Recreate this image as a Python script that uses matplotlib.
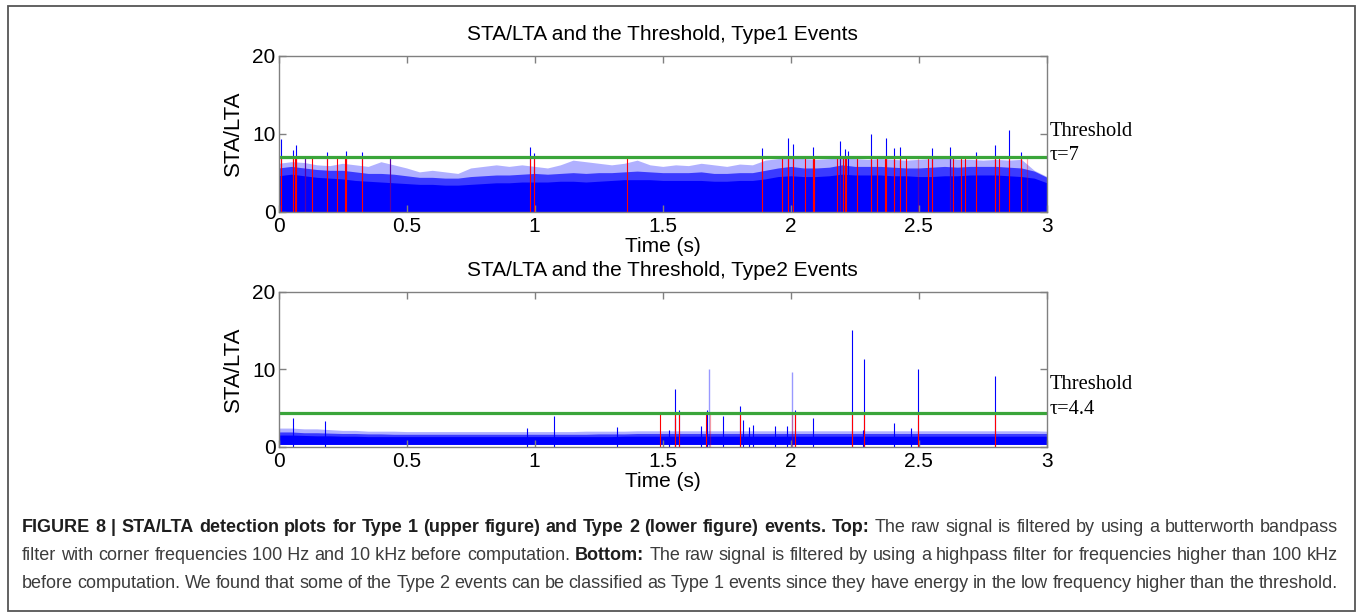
import numpy as np
import matplotlib
matplotlib.use('Agg')
import matplotlib.pyplot as plt
from matplotlib.patches import Rectangle

# ---- data ----
env_t = [0.00, 0.05, 0.10, 0.15, 0.20, 0.25, 0.30, 0.35, 0.40, 0.45,
         0.50, 0.55, 0.60, 0.65, 0.70, 0.75, 0.80, 0.85, 0.90, 0.95,
         1.00, 1.05, 1.10, 1.15, 1.20, 1.25, 1.30, 1.35, 1.40, 1.45,
         1.50, 1.55, 1.60, 1.65, 1.70, 1.75, 1.80, 1.85, 1.90, 1.95,
         2.00, 2.05, 2.10, 2.15, 2.20, 2.25, 2.30, 2.35, 2.40, 2.45,
         2.50, 2.55, 2.60, 2.65, 2.70, 2.75, 2.80, 2.85, 2.90, 2.95,
         3.00]

# Type 1: solid core, dense spikes and light fringe of the STA/LTA trace
top_core = [4.6, 4.8, 4.6, 4.4, 4.3, 4.2, 4.0, 3.9, 3.8, 3.7,
            3.6, 3.5, 3.5, 3.4, 3.4, 3.5, 3.6, 3.7, 3.7, 3.8,
            3.8, 3.8, 3.9, 3.9, 3.8, 3.9, 4.0, 4.1, 4.1, 4.1,
            4.0, 4.0, 4.0, 4.0, 3.9, 3.9, 4.0, 4.0, 4.2, 4.5,
            4.6, 4.5, 4.5, 4.6, 4.8, 4.7, 4.7, 4.7, 4.6, 4.6,
            4.5, 4.5, 4.6, 4.6, 4.7, 4.7, 4.7, 4.6, 4.5, 4.3,
            3.7]
top_mid = [5.6, 5.8, 5.6, 5.4, 5.3, 5.3, 5.1, 4.9, 4.9, 4.8,
           4.6, 4.4, 4.4, 4.3, 4.3, 4.5, 4.6, 4.7, 4.7, 4.8,
           4.9, 4.8, 4.9, 5.0, 4.9, 5.0, 5.0, 5.1, 5.2, 5.1,
           5.0, 5.0, 5.0, 5.1, 4.9, 4.9, 5.0, 5.0, 5.3, 5.6,
           5.8, 5.6, 5.6, 5.7, 6.0, 5.8, 5.8, 5.8, 5.7, 5.6,
           5.6, 5.7, 5.8, 5.7, 5.8, 5.8, 5.8, 5.7, 5.6, 5.2,
           4.4]
top_peak = [6.2, 6.4, 6.3, 6.0, 5.9, 6.2, 6.0, 5.8, 6.4, 6.0,
            5.6, 5.1, 5.3, 5.1, 4.9, 5.6, 5.8, 6.0, 5.8, 6.0,
            5.8, 5.6, 6.0, 6.6, 6.4, 6.2, 6.0, 6.2, 6.6, 6.0,
            5.8, 6.0, 5.9, 6.2, 6.0, 5.8, 6.1, 6.0, 6.6, 6.8,
            6.9, 6.8, 6.7, 6.8, 6.9, 6.8, 6.7, 6.8, 6.7, 6.6,
            6.7, 6.8, 6.9, 6.7, 6.7, 6.6, 6.7, 6.6, 6.7, 5.3,
            4.5]
top_spike_t = [0.008, 0.057, 0.068, 0.104, 0.189, 0.262, 0.325, 0.437, 0.983, 0.997,
               1.888, 1.990, 2.008, 2.087, 2.191, 2.212, 2.222, 2.311, 2.371, 2.402,
               2.425, 2.551, 2.620, 2.724, 2.796, 2.852, 2.897]
top_spike_h = [9.3, 7.9, 8.6, 7.0, 7.65, 7.8, 7.6, 7.0, 8.25, 7.5,
               8.2, 9.5, 8.7, 8.3, 9.0, 8.0, 7.8, 10.0, 9.4, 8.2,
               8.25, 8.1, 8.3, 7.6, 8.5, 10.5, 7.6]
top_red = [0.008, 0.057, 0.065, 0.070, 0.129, 0.189, 0.227, 0.260, 0.264, 0.325,
           0.983, 0.997, 1.362, 1.888, 1.966, 1.987, 2.008, 2.057, 2.087, 2.091,
           2.181, 2.202, 2.211, 2.217, 2.260, 2.311, 2.335, 2.368, 2.371, 2.402,
           2.425, 2.449, 2.534, 2.551, 2.632, 2.666, 2.680, 2.724, 2.796, 2.813,
           2.852, 2.897]
top_pink = [0.104, 0.437, 2.191, 2.497, 2.620, 2.922]
top_tau = 7.0

# Type 2
bot_low = [0.30] * 61
bot_core = [1.5, 1.5, 1.45, 1.4, 1.4, 1.35, 1.35, 1.3, 1.3, 1.3,
            1.3, 1.3, 1.3, 1.3, 1.3, 1.3, 1.3, 1.3, 1.3, 1.3,
            1.3, 1.3, 1.3, 1.3, 1.3, 1.3, 1.3, 1.35, 1.35, 1.35,
            1.35, 1.35, 1.35, 1.35, 1.35, 1.35, 1.35, 1.35, 1.35, 1.35,
            1.35, 1.35, 1.35, 1.35, 1.35, 1.35, 1.35, 1.35, 1.35, 1.35,
            1.35, 1.35, 1.35, 1.35, 1.35, 1.35, 1.35, 1.35, 1.35, 1.35,
            1.35]
bot_mid = [1.9, 1.9, 1.8, 1.8, 1.75, 1.7, 1.7, 1.65, 1.65, 1.6,
           1.6, 1.6, 1.6, 1.6, 1.6, 1.6, 1.6, 1.6, 1.6, 1.6,
           1.6, 1.6, 1.6, 1.6, 1.6, 1.65, 1.65, 1.65, 1.7, 1.7,
           1.7, 1.7, 1.7, 1.7, 1.7, 1.7, 1.7, 1.7, 1.7, 1.7,
           1.7, 1.7, 1.7, 1.7, 1.7, 1.7, 1.7, 1.7, 1.7, 1.7,
           1.7, 1.7, 1.7, 1.7, 1.7, 1.7, 1.7, 1.7, 1.7, 1.7,
           1.7]
bot_peak = [2.4, 2.4, 2.3, 2.3, 2.2, 2.1, 2.1, 2.0, 2.0, 2.0,
            1.95, 1.95, 1.95, 1.95, 1.95, 1.95, 1.95, 1.95, 1.95, 1.95,
            1.95, 1.95, 1.95, 1.95, 2.0, 2.0, 2.0, 2.0, 2.05, 2.05,
            2.05, 2.05, 2.05, 2.05, 2.05, 2.05, 2.05, 2.05, 2.05, 2.05,
            2.05, 2.05, 2.05, 2.05, 2.05, 2.05, 2.05, 2.05, 2.05, 2.05,
            2.05, 2.05, 2.05, 2.05, 2.05, 2.05, 2.05, 2.05, 2.05, 2.05,
            2.0]
bot_spike_t = [0.055, 0.18, 0.971, 1.077, 1.32, 1.525, 1.547, 1.549, 1.562, 1.649,
               1.672, 1.736, 1.802, 1.814, 1.837, 1.853, 1.939, 1.986, 2.017, 2.087,
               2.239, 2.283, 2.287, 2.402, 2.471, 2.497, 2.797]
bot_spike_h = [3.65, 3.3, 2.4, 3.9, 2.5, 2.2, 3.7, 7.46, 4.74, 2.7,
               4.7, 3.9, 5.26, 3.45, 2.5, 2.8, 2.67, 2.7, 4.74, 3.75,
               15.0, 2.15, 11.3, 3.0, 2.4, 9.95, 9.14]
bot_faint_t = [1.681, 2.0065]
bot_faint_h = [10.0, 9.66]
bot_red = [1.488, 1.549, 1.562, 1.670, 1.802, 2.018, 2.239, 2.287, 2.497, 2.797]
bot_pink = [1.684, 2.004]
bot_tau = 4.4

xticks = [0, 0.5, 1, 1.5, 2, 2.5, 3]
xticklabels = ['0', '0.5', '1', '1.5', '2', '2.5', '3']
yticks = [0, 10, 20]

W, H = 1360, 615
BLUE = '#0000ff'
MID = '#3a3aff'
LIGHT = '#b0b0ff'
GREEN = '#3aa53a'
GRAY = '#808080'
FS = 15

plt.rcParams['font.family'] = ['Liberation Sans', 'DejaVu Sans']

fig = plt.figure(figsize=(W / 100, H / 100), dpi=100)
fig.patch.set_facecolor('white')


def px_axes(left, top, right, bottom):
    return fig.add_axes([left / W, 1 - bottom / H, (right - left) / W, (bottom - top) / H])


def style(ax, title):
    ax.set_xlim(0, 3)
    ax.set_ylim(0, 20)
    ax.set_xticks(xticks)
    ax.set_xticklabels(xticklabels)
    ax.set_yticks(yticks)
    ax.tick_params(direction='in', top=True, right=True, length=5, width=1,
                   color=GRAY, labelsize=FS, pad=2)
    ax.tick_params(axis='x', pad=3.5)
    for s in ax.spines.values():
        s.set_color(GRAY)
        s.set_linewidth(1)
    ax.set_title(title, fontsize=FS, pad=11)
    ax.set_xlabel('Time (s)', fontsize=FS, labelpad=1)
    ax.set_ylabel('STA/LTA', fontsize=FS + 1, labelpad=6)


def threshold_label(ax, y1, y2, tau_text):
    tr = ax.get_yaxis_transform()
    for y, s in [(y1, 'Threshold'), (y2, tau_text)]:
        ax.text(1.003, y, s, transform=tr, family='Liberation Serif',
                fontsize=14.8, va='center', ha='left')


def draw_trace(ax, low, core, mid, peak):
    ax.fill_between(env_t, low, peak, color=LIGHT, lw=0)
    ax.fill_between(env_t, low, mid, color=MID, lw=0)
    ax.fill_between(env_t, low, core, color=BLUE, lw=0)


# ---- top panel ----
ax1 = px_axes(278.5, 55.5, 1047, 211.7)
draw_trace(ax1, 0, top_core, top_mid, top_peak)
ax1.vlines(top_spike_t, 0, top_spike_h, color=BLUE, lw=0.8)
ax1.vlines(top_pink, 0, top_tau, color='#ff0000', alpha=0.35, lw=0.9)
ax1.vlines(top_red, 0, top_tau, color='#ff0000', lw=0.8)
ax1.axhline(top_tau, color=GREEN, lw=2.3)
style(ax1, 'STA/LTA and the Threshold, Type1 Events')
threshold_label(ax1, 10.3, 7.25, '\u03c4=7')

# ---- bottom panel ----
ax2 = px_axes(278.5, 291.5, 1047, 446.7)
draw_trace(ax2, bot_low, bot_core, bot_mid, bot_peak)
ax2.vlines(bot_faint_t, 0, bot_faint_h, color=BLUE, alpha=0.4, lw=1.0)
ax2.vlines(bot_spike_t, 0, bot_spike_h, color=BLUE, lw=0.8)
ax2.vlines(bot_pink, 0, bot_tau, color='#ff0000', alpha=0.35, lw=0.9)
ax2.vlines(bot_red, 0, bot_tau, color='#ff0000', lw=0.8)
ax2.axhline(bot_tau, color=GREEN, lw=2.3)
style(ax2, 'STA/LTA and the Threshold, Type2 Events')
threshold_label(ax2, 7.96, 4.74, '\u03c4=4.4')

# ---- outer frame ----
fig.patches.append(Rectangle((8 / W, 1 - 611 / H), (1355 - 8) / W, (611 - 6) / H,
                             transform=fig.transFigure, fill=False,
                             edgecolor='#555555', lw=1.3))

# ---- justified caption ----
cap_lines = [
    [("FIGURE 8 | STA/LTA detection plots for Type 1 (upper figure) and Type 2 (lower figure) events. Top:", True),
     ("The raw signal is filtered by using a butterworth bandpass", False)],
    [("filter with corner frequencies 100 Hz and 10 kHz before computation.", False),
     ("Bottom:", True),
     ("The raw signal is filtered by using a highpass filter for frequencies higher than 100 kHz", False)],
    [("before computation. We found that some of the Type 2 events can be classified as Type 1 events since they have energy in the low frequency higher than the threshold.", False)],
]
cap_y = [528, 556, 583]
cap_x0, cap_x1 = 22, 1338
cap_size = 13

renderer = fig.canvas.get_renderer()
for line, yc in zip(cap_lines, cap_y):
    words = []
    for seg, bold in line:
        seg = seg.replace('100 Hz', '100\u00a0Hz').replace('10 kHz', '10\u00a0kHz')
        for w in seg.split(' '):
            words.append((w, bold))
    texts = []
    total = 0
    for w, bold in words:
        t = fig.text(0, 1 - yc / H, w, fontsize=cap_size, va='center', ha='left',
                     weight='bold' if bold else 'normal',
                     color='#1e1e1e' if bold else '#3c3c3c')
        wpx = t.get_window_extent(renderer).width
        texts.append((t, wpx))
        total += wpx
    gap = (cap_x1 - cap_x0 - total) / (len(texts) - 1)
    x = cap_x0
    for t, wpx in texts:
        t.set_x(x / W)
        x += wpx + gap

fig.savefig('out.png', dpi=100)
